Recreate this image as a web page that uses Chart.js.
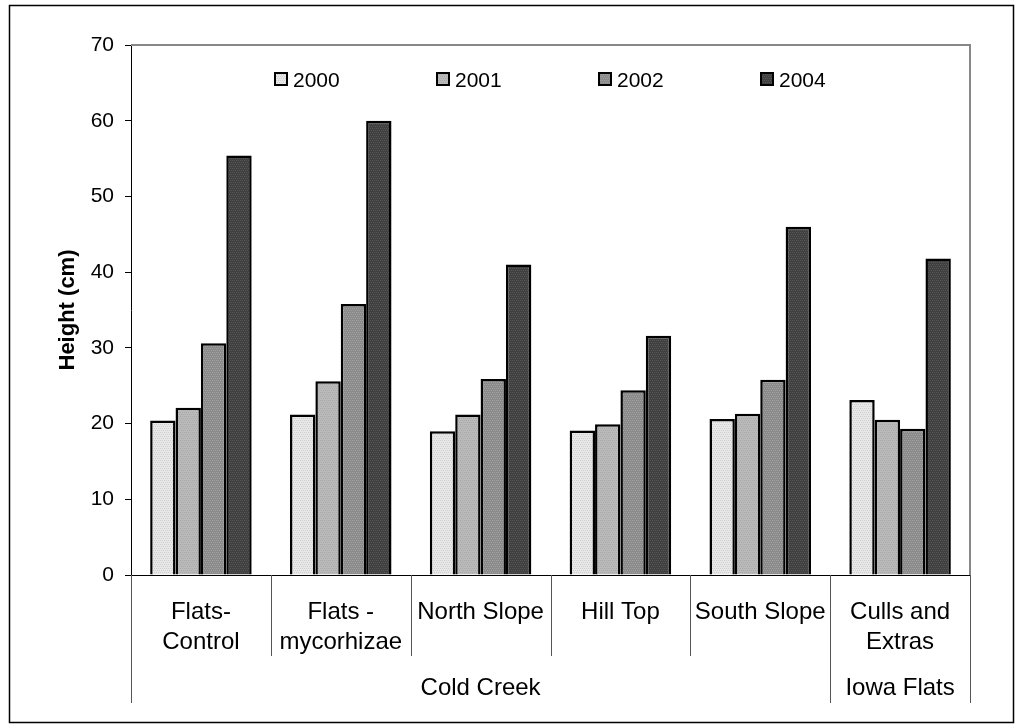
<!DOCTYPE html>
<html>
<head>
<meta charset="utf-8">
<script src="https://cdn.jsdelivr.net/npm/chart.js@4/dist/chart.umd.min.js"></script>
<style>
  html, body { margin: 0; padding: 0; background: #fff; }
  #wrap { width: 1016px; height: 726px; }
</style>
</head>
<body>
<div id="wrap"><canvas id="myChart"></canvas></div>
<script>
// data
const categories = [['Flats-', 'Control'], ['Flats -', 'mycorhizae'], ['North Slope'], ['Hill Top'], ['South Slope'], ['Culls and', 'Extras']];
const groups = ['Cold Creek', 'Iowa Flats'];
const groupSizes = [5, 1];
const years = ['2000', '2001', '2002', '2004'];
const h2000 = [20.4, 21.2, 19.0, 19.1, 20.6, 23.1];
const h2001 = [22.1, 25.6, 21.2, 19.9, 21.3, 20.5];
const h2002 = [30.6, 35.8, 25.9, 24.4, 25.8, 19.3];
const h2004 = [55.4, 60.0, 41.0, 31.6, 46.0, 41.8];
const yTicks = [0, 10, 20, 30, 40, 50, 60, 70];

const FONT = "'Liberation Sans', Arial, sans-serif";

// small dotted texture like the old spreadsheet fills
function makePattern(base, dot) {
    let c = document.createElement('canvas');
    c.width = 4;
    c.height = 4;
    let g = c.getContext('2d');
    g.fillStyle = base;
    g.fillRect(0, 0, 4, 4);
    g.fillStyle = dot;
    g.fillRect(0, 0, 1, 1);
    g.fillRect(2, 0, 1, 1);
    g.fillRect(1, 2, 1, 1);
    g.fillRect(3, 2, 1, 1);
    return g.createPattern(c, 'repeat');
}

const fills = [
    makePattern('#e8e8e8', '#cfcfcf'),
    makePattern('#bababa', '#a8a8a8'),
    makePattern('#8a8a8a', '#a2a2a2'),
    makePattern('#404040', '#565656')
];

const values = [h2000, h2001, h2002, h2004];
const datasets = years.map(function (y, i) {
    return {
        label: y,
        data: values[i],
        backgroundColor: fills[i],
        borderColor: '#000',
        borderWidth: 2.5,
        borderSkipped: 'bottom',
        categoryPercentage: 0.726,
        barPercentage: 1
    };
});

// frame, grey top/right plot edges, legend inside the plot
const decor = {
    id: 'decor',
    beforeDraw(chart) {
        const c = chart.ctx;
        c.save();
        c.fillStyle = '#fff';
        c.fillRect(0, 0, chart.width, chart.height);
        c.strokeStyle = '#000';
        c.lineWidth = 1.5;
        c.strokeRect(9.5, 5.5, 1004, 717);
        c.restore();
    },
    afterDatasetsDraw(chart) {
        const c = chart.ctx;
        const a = chart.chartArea;
        c.save();
        c.strokeStyle = '#888';
        c.lineWidth = 2;
        c.beginPath();
        c.moveTo(a.left, a.top);
        c.lineTo(a.right, a.top);
        c.lineTo(a.right, a.bottom);
        c.stroke();

        // legend
        c.font = '21px ' + FONT;
        c.textBaseline = 'alphabetic';
        c.textAlign = 'left';
        chart.data.datasets.forEach(function (ds, i) {
            const bx = 274 + i * 162;
            c.fillStyle = ds.backgroundColor;
            c.fillRect(bx, 72, 14, 14);
            c.strokeStyle = '#000';
            c.lineWidth = 2;
            c.strokeRect(bx + 1, 73, 12, 12);
            c.fillStyle = '#000';
            c.fillText(ds.label, bx + 19, 87);
        });
        c.restore();
    },
    afterDraw(chart) {
        const c = chart.ctx;
        const x = chart.scales.x;
        const a = chart.chartArea;
        const half = (x.getPixelForValue(1) - x.getPixelForValue(0)) / 2;
        c.save();
        c.strokeStyle = '#555';
        c.lineWidth = 1;
        // separators between categories; group edges run down further
        let edges = [0];
        let n = 0;
        groupSizes.forEach(function (s) { n += s; edges.push(n); });
        for (let i = 0; i <= categories.length; i++) {
            const px = Math.round(x.getPixelForValue(i) - half) + 0.5;
            const long = edges.indexOf(i) >= 0;
            c.beginPath();
            c.moveTo(px, a.bottom);
            c.lineTo(px, long ? 703 : 656);
            c.stroke();
        }
        c.fillStyle = '#000';
        c.font = '24px ' + FONT;
        c.textAlign = 'center';
        c.textBaseline = 'alphabetic';
        categories.forEach(function (lines, i) {
            const cx = x.getPixelForValue(i);
            lines.forEach(function (t, j) {
                c.fillText(t, cx, 619 + j * 30);
            });
        });
        let start = 0;
        groups.forEach(function (g, k) {
            const l = x.getPixelForValue(start) - half;
            const r = x.getPixelForValue(start + groupSizes[k] - 1) + half;
            c.fillText(g, (l + r) / 2, 695);
            start += groupSizes[k];
        });
        c.restore();
    }
};

const ctx = document.getElementById('myChart').getContext('2d');
const myChart = new Chart(ctx, {
    type: 'bar',
    data: {
        labels: categories.map(function (l) { return l.join(' '); }),
        datasets: datasets
    },
    options: {
        responsive: true,
        maintainAspectRatio: false,
        animation: false,
        devicePixelRatio: 1,
        layout: { padding: { left: 0, top: 45, right: 46, bottom: 151 } },
        plugins: {
            legend: { display: false },
            tooltip: { enabled: false }
        },
        scales: {
            x: {
                ticks: { display: false },
                grid: { display: false, drawTicks: false },
                border: { display: true, color: '#000', width: 1 }
            },
            y: {
                min: 0,
                max: 70,
                afterBuildTicks: function (s) { s.ticks = yTicks.map(function (v) { return { value: v }; }); },
                afterFit: function (s) { s.width = 131; },
                ticks: {
                    color: '#000',
                    padding: 11,
                    font: { family: FONT, size: 21 }
                },
                grid: { drawOnChartArea: false, drawTicks: true, tickLength: 6, color: '#000', lineWidth: 1 },
                border: { display: true, color: '#000', width: 1 },
                title: {
                    display: true,
                    text: 'Height (cm)',
                    color: '#000',
                    font: { family: FONT, size: 22, weight: 'bold' },
                    padding: { top: 55, bottom: 0 }
                }
            }
        }
    },
    plugins: [decor]
});
</script>
</body>
</html>
